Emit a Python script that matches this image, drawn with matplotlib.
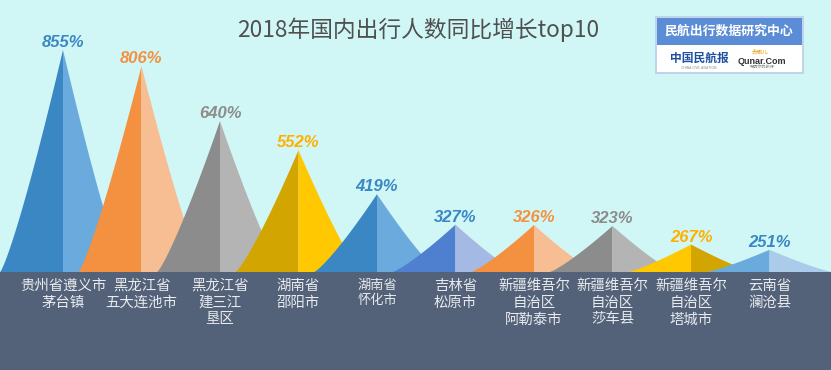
import numpy as np
import matplotlib
matplotlib.use("Agg")
import matplotlib.pyplot as plt
from matplotlib.patches import Rectangle

plt.rcParams['font.family'] = ['Noto Sans CJK SC', 'DejaVu Sans']

# Data
places = ["贵州省遵义市\n茅台镇", "黑龙江省\n五大连池市", "黑龙江省\n建三江\n垦区",
          "湖南省\n邵阳市", "湖南省\n怀化市", "吉林省\n松原市",
          "新疆维吾尔\n自治区\n阿勒泰市", "新疆维吾尔\n自治区\n莎车县",
          "新疆维吾尔\n自治区\n塔城市", "云南省\n澜沧县"]
growth = [855, 806, 640, 552, 419, 327, 326, 323, 267, 251]

# colours: (left half, right half, label)
left_cols = ["#3A87C4", "#F39140", "#8C8C8C", "#D3A500", "#3A87C4",
             "#4F7FCF", "#F39140", "#8C8C8C", "#FFC800", "#6AAADC"]
right_cols = ["#6AAADC", "#F7BE93", "#B4B4B4", "#FFC800", "#6AAADC",
              "#A4B9E3", "#F7BE93", "#B4B4B4", "#D3A500", "#ABCBEA"]
label_cols = ["#3A87C4", "#F39140", "#8C8C8C", "#FFB000", "#3A87C4",
              "#3A87C4", "#F39140", "#8C8C8C", "#FFB000", "#3A87C4"]

bg = "#D0F7F6"
band = "#536279"

W, H = 831, 370
fig = plt.figure(figsize=(W / 100, H / 100), dpi=100, facecolor=bg)

base_frac = 98 / H
fig.patches.append(Rectangle((0, 0), 1, base_frac, transform=fig.transFigure,
                             facecolor=band, edgecolor='none', zorder=-5))

ax = fig.add_axes([0, base_frac, 1, 1 - base_frac])
ax.set_facecolor('none')
base = 184
ax.set_ylim(base, base + 272 / 0.331)
ax.set_xlim(-0.8025, 9.783)

half_w = 0.80
p = 1.2
u = np.linspace(0, 1, 60)
for i, v in enumerate(growth):
    yy = base + (v - base) * (1 - u) ** p
    # left half, then right half
    xl = np.concatenate([i - u * half_w, [i]])
    yl = np.concatenate([yy, [base]])
    ax.fill(xl, yl, color=left_cols[i], lw=0, zorder=2 + i)
    xr = np.concatenate([i + u * half_w, [i]])
    ax.fill(xr, yl, color=right_cols[i], lw=0, zorder=2 + i)
    ax.annotate(f"{v}%", (i, v), xytext=(0, 0), textcoords='offset points',
                ha='center', va='bottom', color=label_cols[i],
                fontsize=12, fontweight='bold', fontstyle='italic',
                family=['Liberation Sans', 'DejaVu Sans'], zorder=20)

ax.set_xticks(range(len(places)))
ax.set_xticklabels(places, color="#E8EAEE", fontsize=10.4, linespacing=1.25)
ax.get_xticklabels()[4].set_fontsize(9.5)
ax.tick_params(axis='x', length=0, pad=5)
ax.set_yticks([])
for s in ax.spines.values():
    s.set_visible(False)

# title
fig.text(418 / W, 1 - 30 / H, "2018年国内出行人数同比增长top10", ha='center', va='center',
         fontsize=16.4, color="#505050")

# logo box
def fx(px):
    return px / W

def fy(py):
    return 1 - py / H

fig.patches.append(Rectangle((fx(656), fy(73)), fx(803) - fx(656), fy(17) - fy(73),
                             transform=fig.transFigure, facecolor='white',
                             edgecolor="#B8CCE8", lw=1.2, zorder=1))
fig.patches.append(Rectangle((fx(657), fy(45)), fx(802) - fx(657), fy(18) - fy(45),
                             transform=fig.transFigure, facecolor="#5B8DD6",
                             edgecolor='none', zorder=2))
fig.text(fx(729), fy(31), "民航出行数据研究中心", ha='center', va='center',
         color='white', fontsize=9.3, fontweight='bold', zorder=3)
fig.text(fx(699), fy(58), "中国民航报", ha='center', va='center',
         color="#1F4FA0", fontsize=8.5, fontweight='bold', fontstyle='italic', zorder=3)
fig.text(fx(699), fy(68), "CHINA CIVIL AVIATION", ha='center', va='center',
         color="#888888", fontsize=2.5, zorder=3)
fig.text(fx(760), fy(52), "去哪儿", ha='center', va='center',
         color="#E8A000", fontsize=4, zorder=3)
fig.text(fx(762), fy(61), "Qunar.Com", ha='center', va='center',
         color="#333333", fontsize=6.5, fontweight='bold',
         family=['Liberation Sans', 'DejaVu Sans'], zorder=3)
fig.text(fx(762), fy(68), "聪明你的旅行", ha='center', va='center',
         color="#888888", fontsize=3, zorder=3)

fig.savefig("out.png", dpi=100, facecolor=bg)
